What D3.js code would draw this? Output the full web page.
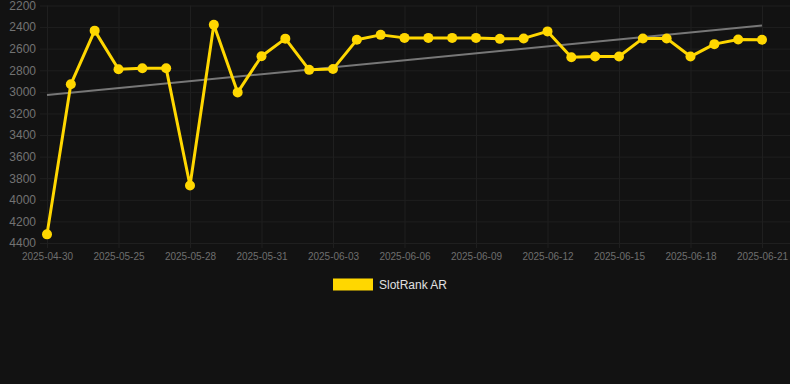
<!DOCTYPE html>
<html>
<head>
<meta charset="utf-8">
<script src="https://cdn.jsdelivr.net/npm/d3@7/dist/d3.min.js"></script>
<style>
  html, body { margin: 0; padding: 0; background: #121212; }
  svg { display: block; }
  text { font-family: "Liberation Sans", Arial, Helvetica, sans-serif; }
</style>
</head>
<body>
<svg id="chart" width="790" height="384"></svg>
<script>
const categories = [
  "2025-04-30","2025-05-23","2025-05-24","2025-05-25","2025-05-26","2025-05-27",
  "2025-05-28","2025-05-29","2025-05-30","2025-05-31","2025-06-01","2025-06-02",
  "2025-06-03","2025-06-04","2025-06-05","2025-06-06","2025-06-07","2025-06-08",
  "2025-06-09","2025-06-10","2025-06-11","2025-06-12","2025-06-13","2025-06-14",
  "2025-06-15","2025-06-16","2025-06-17","2025-06-18","2025-06-19","2025-06-20",
  "2025-06-21"
];
const rankValues = [
  4320, 2930, 2433, 2791, 2782, 2782,
  3868, 2379, 3005, 2670, 2507, 2796,
  2789, 2518, 2472, 2500, 2500, 2500,
  2500, 2509, 2505, 2440, 2680, 2673,
  2673, 2505, 2505, 2673, 2558, 2515,
  2518
];
const trendValues = [3030, 2386]; // trend line at first and last category
const yTicks = [2200, 2400, 2600, 2800, 3000, 3200, 3400, 3600, 3800, 4000, 4200, 4400];
const xTickLabels = categories.filter((d, i) => i % 3 === 0);
const seriesName = "SlotRank AR";

const svg = d3.select("#chart");
const mLeft = 47, mRight = 762, mTop = 5.5, mBottom = 243;

const x = d3.scalePoint().domain(categories).range([mLeft, mRight]);
const y = d3.scaleLinear().domain([2200, 4400]).range([mTop, mBottom]);

const gridColor = "#1f1f1f";

// horizontal grid + y labels
const yAxis = d3.axisLeft(y).tickValues(yTicks).tickFormat(d3.format("d"))
  .tickSize(-(790 - 40)).tickPadding(4);
const gy = svg.append("g").attr("transform", "translate(40,0)").call(yAxis);
gy.select(".domain").remove();
gy.selectAll(".tick line").attr("stroke", gridColor).attr("stroke-width", 1);
gy.selectAll(".tick text").attr("fill", "#727272").attr("font-size", 12)
  .attr("font-family", "'Liberation Sans', Arial, sans-serif");

// vertical grid + x labels
const xAxis = d3.axisBottom(x).tickValues(xTickLabels).tickSize(-(mBottom - mTop)).tickPadding(10);
const gx = svg.append("g").attr("transform", `translate(0,${mBottom})`).call(xAxis);
gx.select(".domain").remove();
gx.selectAll(".tick line").attr("stroke", gridColor).attr("stroke-width", 1).attr("y2", -(mBottom - mTop)).attr("y1", 5);
gx.selectAll(".tick text").attr("fill", "#6e6e6e").attr("font-size", 10)
  .attr("font-family", "'Liberation Sans', Arial, sans-serif");

// trend line
svg.append("line")
  .attr("x1", x(categories[0])).attr("y1", y(trendValues[0]))
  .attr("x2", x(categories[categories.length - 1])).attr("y2", y(trendValues[1]))
  .attr("stroke", "#777777").attr("stroke-width", 2);

// series line
const line = d3.line().x((d, i) => x(categories[i])).y(d => y(d));
svg.append("path").datum(rankValues)
  .attr("d", line).attr("fill", "none")
  .attr("stroke", "#FFD700").attr("stroke-width", 3).attr("stroke-linejoin", "round");

svg.append("g").selectAll("circle").data(rankValues).join("circle")
  .attr("cx", (d, i) => x(categories[i])).attr("cy", d => y(d))
  .attr("r", 5).attr("fill", "#FFD700");

// legend
const lg = svg.append("g");
lg.append("rect").attr("x", 333).attr("y", 278.5).attr("width", 40).attr("height", 12).attr("fill", "#FFD700");
lg.append("text").attr("x", 379).attr("y", 289).attr("fill", "#e0e0e0").attr("font-size", 12).text(seriesName);
</script>
</body>
</html>
